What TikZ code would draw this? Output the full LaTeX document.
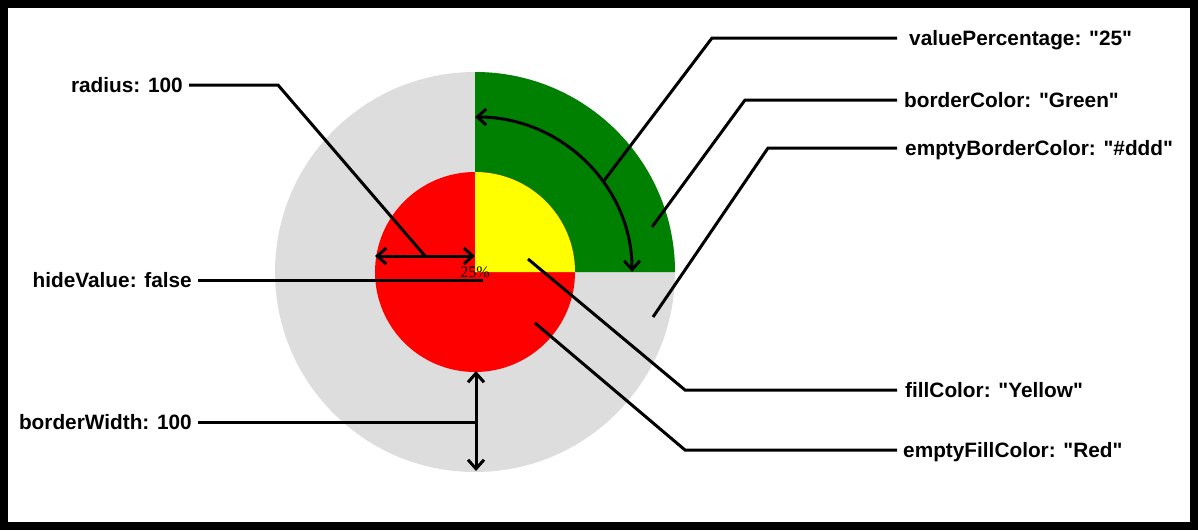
\documentclass[tikz,border=0pt]{standalone}
\usepackage{fontspec}
\setmainfont{Liberation Sans}[Ligatures=TeXOff]
\newfontfamily\serifface{Liberation Serif}
\usetikzlibrary{arrows.meta}
\definecolor{ringgray}{HTML}{DDDDDD}
\definecolor{ringgreen}{HTML}{008000}
\definecolor{fillred}{HTML}{FF0000}
\definecolor{fillyellow}{HTML}{FFFF00}
\tikzset{
  lbl/.style={inner sep=0pt, font=\fontsize{20.8}{24}\selectfont\bfseries},
  leader/.style={line width=3pt, line join=miter},
  dimarrow/.style={line width=3pt, {Straight Barb[length=9pt,width=16pt]}-{Straight Barb[length=9pt,width=16pt]}}
}
\begin{document}
\begin{tikzpicture}[x=1pt,y=-1pt]
\useasboundingbox (0,0) rectangle (1198,530);
\fill[black] (0,0) rectangle (1198,530);
\fill[white] (8,8) rectangle (1190,522);
% gauge
\coordinate (C) at (475,272);
\fill[ringgray] (C) circle[radius=200];
\fill[ringgreen] (C) -- (675,272) arc[start angle=0,end angle=-90,radius=200] -- cycle;
\fill[fillred] (C) circle[radius=100];
\fill[fillyellow] (C) -- (575,272) arc[start angle=0,end angle=-90,radius=100] -- cycle;
\node[inner sep=0pt, anchor=base, font=\serifface\fontsize{16}{18}\selectfont] (val) at (475,277) {25\%};
% dimension arrows
\coordinate (rA) at (375,256);
\coordinate (rB) at (475,256);
\draw[dimarrow] (rA) -- (rB);
\coordinate (bwA) at (476,371);
\coordinate (bwB) at (476,471);
\draw[dimarrow] (bwA) -- (bwB);
\coordinate (arcS) at (475,117);
\draw[dimarrow] (arcS) arc[start angle=-90,end angle=0,x radius=157,y radius=155];
% left labels
\node[lbl, anchor=base east] (radius) at (183,92) {radius: 100};
\node[lbl, anchor=base east] (hide) at (192,287) {hideValue: false};
\node[lbl, anchor=base east] (bw) at (192,429) {borderWidth: 100};
\coordinate (ra1) at (189,85);
\coordinate (ra2) at (278,85);
\coordinate (ra3) at (425,256);
\draw[leader] (ra1) -- (ra2) -- (ra3);
\coordinate (hv1) at (198,280);
\coordinate (hv2) at (483,280);
\draw[leader] (hv1) -- (hv2);
\coordinate (bw1) at (198,422);
\coordinate (bw2) at (476,422);
\draw[leader] (bw1) -- (bw2);
% right labels
\node[lbl, anchor=base west] (vp) at (909,45) {valuePercentage: "25"};
\node[lbl, anchor=base west] (bc) at (904,107) {borderColor: "Green"};
\node[lbl, anchor=base west] (ebc) at (905,155) {emptyBorderColor: "\#ddd"};
\node[lbl, anchor=base west] (fc) at (905,397) {fillColor: "Yellow"};
\node[lbl, anchor=base west] (efc) at (903,457) {emptyFillColor: "Red"};
\coordinate (vp1) at (897,38);
\coordinate (vp2) at (712,38);
\coordinate (vp3) at (603,182);
\draw[leader] (vp1) -- (vp2) -- (vp3);
\coordinate (bc1) at (897,100);
\coordinate (bc2) at (745,100);
\coordinate (bc3) at (652,227);
\draw[leader] (bc1) -- (bc2) -- (bc3);
\coordinate (ebc1) at (897,148);
\coordinate (ebc2) at (768,148);
\coordinate (ebc3) at (653,317);
\draw[leader] (ebc1) -- (ebc2) -- (ebc3);
\coordinate (fc1) at (897,390);
\coordinate (fc2) at (685,390);
\coordinate (fc3) at (528,259);
\draw[leader] (fc1) -- (fc2) -- (fc3);
\coordinate (efc1) at (897,450);
\coordinate (efc2) at (685,450);
\coordinate (efc3) at (535,323);
\draw[leader] (efc1) -- (efc2) -- (efc3);
\end{tikzpicture}
\end{document}
